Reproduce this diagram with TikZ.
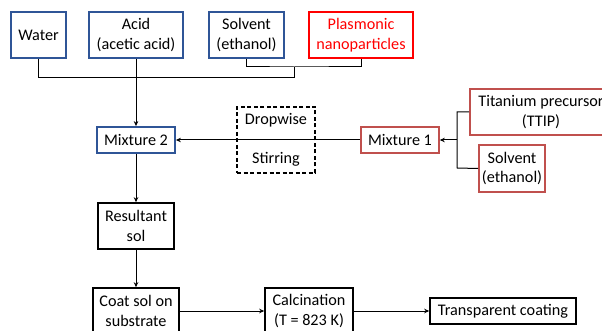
\documentclass[tikz,border=0pt]{standalone}
\usepackage{fontspec}
\setmainfont{Carlito}
\usetikzlibrary{arrows.meta}
\definecolor{bluebd}{HTML}{2F5597}
\definecolor{redbd}{HTML}{FF0000}
\definecolor{softred}{HTML}{C0504D}
\begin{document}
\begin{tikzpicture}[x=1pt,y=-1pt,
  every node/.style={font=\fontsize{16.2}{19.5}\selectfont, align=center, inner sep=0pt},
  bbox/.style={draw=bluebd, line width=1.8pt, fill=white},
  rbox/.style={draw=redbd, line width=1.6pt, fill=white, text=redbd},
  sbox/.style={draw=softred, line width=1.6pt, fill=white},
  kbox/.style={draw=black, line width=1.6pt, fill=white},
  dbox/.style={draw=black, line width=1.3pt, dashed, dash pattern=on 4pt off 2.5pt},
  conn/.style={draw=black, line width=1pt},
  arr/.style={conn, -{Stealth[length=5pt,width=4.5pt]}}]
\clip (0,0) rectangle (602,331);
\fill[white] (0,0) rectangle (602,331);
% top row
\node[bbox, minimum width=55pt, minimum height=46pt] (water) at (38.5,35) {Water};
\node[bbox, minimum width=94pt, minimum height=46pt] (acid) at (136,35) {Acid\\(acetic acid)};
\node[bbox, minimum width=75pt, minimum height=46pt] (solv) at (246.5,35) {Solvent\\(ethanol)};
\node[rbox, minimum width=104pt, minimum height=46pt] (plas) at (361,35) {Plasmonic\\nanoparticles};
% middle row
\node[bbox, minimum width=78pt, minimum height=26pt] (mix2) at (136,140) {Mixture 2};
\node[dbox, minimum width=78pt, minimum height=66pt] (drop) at (276,140) {};
\node (dtxt) at (276,120) {Dropwise};
\node (stxt) at (276,159) {Stirring};
\node[sbox, minimum width=78pt, minimum height=26pt] (mix1) at (400,140) {Mixture 1};
\node[sbox, minimum width=142pt, minimum height=46pt] (ti) at (541,112) {Titanium precursor\\(TTIP)};
\node[sbox, minimum width=66pt, minimum height=47pt] (solv2) at (512,168.5) {Solvent\\(ethanol)};
% lower
\node[kbox, minimum width=76pt, minimum height=46pt] (res) at (136,226) {Resultant\\sol};
\node[kbox, minimum width=86pt, minimum height=46pt] (coat) at (136,311) {Coat sol on\\substrate};
\node[kbox, minimum width=88pt, minimum height=46pt] (calc) at (309,311) {Calcination\\(T = 823 K)};
\node[kbox, minimum width=146pt, minimum height=26pt] (trans) at (503,311) {Transparent coating};
% connectors top
\coordinate (bar) at (294,78);
\coordinate (j1) at (294,67);
\draw[conn] (water.south) |- (bar);
\draw[conn] (solv.south) |- (j1) -| (plas.south);
\draw[conn] (j1) -- (bar);
\draw[arr] (acid.south) -- (mix2.north);
% mixture 1 bracket
\coordinate (bt) at (457,112);
\coordinate (bb) at (457,168);
\coordinate (bm) at (457,140);
\draw[conn] (ti.west) -- (bt) -- (bb) -- (solv2.west);
\draw[arr] (bm) -- (mix1.east);
\draw[arr] (mix1.west) -- (mix2.east);
% lower chain
\draw[arr] (mix2.south) -- (res.north);
\draw[arr] (res.south) -- (coat.north);
\draw[arr] (coat.east) -- (calc.west);
\draw[arr] (calc.east) -- (trans.west);
\end{tikzpicture}
\end{document}
